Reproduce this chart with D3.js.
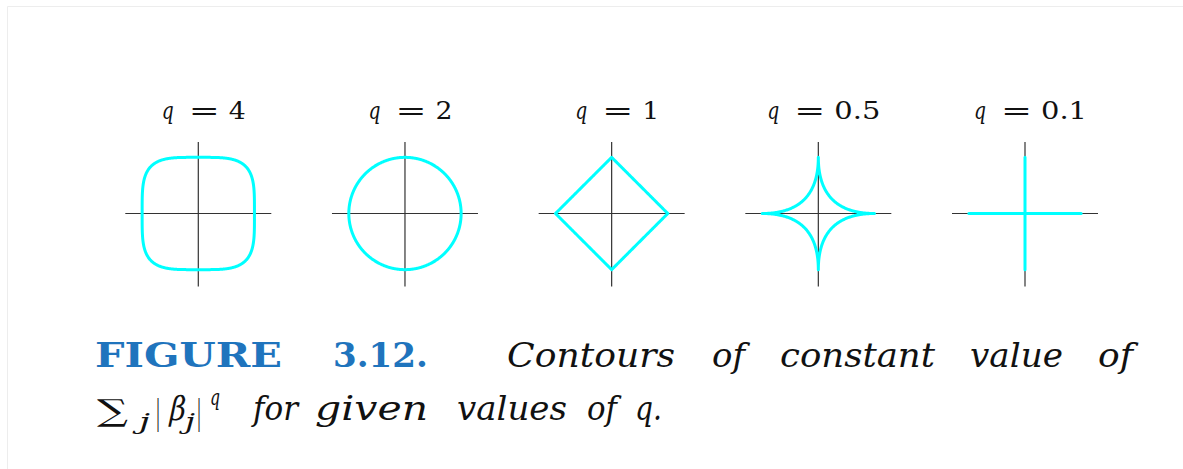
<!DOCTYPE html>
<html>
<head>
<meta charset="utf-8">
<script src="https://cdn.jsdelivr.net/npm/d3@7"></script>
<style>
  html, body { margin: 0; padding: 0; background: #fff; }
  svg { display: block; }
  text { font-family: "DejaVu Serif", serif; }
</style>
</head>
<body>
<div id="chart"></div>
<script>
// values of q, one panel each
var qValues = [4, 2, 1, 0.5, 0.1];
var qLabels = ["4", "2", "1", "0.5", "0.1"];

// caption words
var captionLine1 = ["FIGURE", "3.12.", "Contours", "of", "constant", "value", "of"];
var captionLine2 = ["for", "given", "values", "of", "q."];

var width = 1183, height = 469;
var cy = 213.5;              // vertical centre of the panels
var axisExtent = 1.3;        // axes run from -1.3 to 1.3, contour sits at 1

var svg = d3.select("#chart").append("svg")
    .attr("width", width)
    .attr("height", height);

// faint page frame
svg.append("path")
    .attr("d", "M7.5," + height + "V6.5H" + width)
    .attr("fill", "none")
    .attr("stroke", "#ededed")
    .attr("stroke-width", 1);

var cx = d3.scalePoint()
    .domain(qLabels)
    .range([198.3, 1025]);

var x = d3.scaleLinear().domain([-axisExtent, axisExtent]).range([-73, 73]);
var y = d3.scaleLinear().domain([-axisExtent, axisExtent]).range([73, -73]);

// points of |b1|^q + |b2|^q = 1
function contour(q) {
    var n = 720;
    return d3.range(n).map(function (i) {
        var t = i / n * 2 * Math.PI;
        var c = Math.cos(t), s = Math.sin(t);
        return [Math.sign(c) * Math.pow(Math.abs(c), 2 / q),
                Math.sign(s) * Math.pow(Math.abs(s), 2 / q)];
    });
}

var line = d3.line()
    .x(function (d) { return x(d[0]); })
    .y(function (d) { return y(d[1]); })
    .curve(d3.curveLinearClosed);

var panels = svg.selectAll("g.panel")
    .data(qValues)
    .enter().append("g")
    .attr("class", "panel")
    .attr("transform", function (d, i) {
        return "translate(" + cx(qLabels[i]) + "," + cy + ")";
    });

// axes
panels.append("line")
    .attr("x1", x(-axisExtent)).attr("x2", x(axisExtent))
    .attr("y1", y(0)).attr("y2", y(0))
    .attr("stroke", "#333").attr("stroke-width", 1.2);
panels.append("line")
    .attr("x1", x(0)).attr("x2", x(0))
    .attr("y1", y(axisExtent) + 1.5).attr("y2", y(-axisExtent))
    .attr("stroke", "#333").attr("stroke-width", 1.2);

// contours
panels.append("path")
    .attr("d", function (q) { return line(contour(q)); })
    .attr("fill", "none")
    .attr("stroke", "#00ffff")
    .attr("stroke-width", 3)
    .attr("stroke-linejoin", "round");

// panel labels  q = value
panels.each(function (q, i) {
    var g = d3.select(this);
    var lab = qLabels[i];
    var vw = lab.replace(/\./g, "").length * 17 + (lab.indexOf(".") >= 0 ? 12 : 0);
    var left = 6 - (68 + vw) / 2;
    var t = g.append("text")
        .attr("y", 119 - cy)
        .style("font-size", "25px")
        .attr("fill", "#111");
    t.append("tspan").attr("x", left).style("font-style", "italic")
        .attr("textLength", 12).attr("lengthAdjust", "spacingAndGlyphs").text("q");
    t.append("tspan").attr("x", left + 27).attr("textLength", 31)
        .attr("lengthAdjust", "spacingAndGlyphs").text("=");
    t.append("tspan").attr("x", left + 67).attr("textLength", vw)
        .attr("lengthAdjust", "spacingAndGlyphs").text(lab);
});

// caption
var line1Pos = [[95, 187], [333, 95], [507, 168], [712, 33], [780, 155], [970, 93], [1098, 35]];
var line2Pos = [[253, 45], [315, 113], [457, 110], [587, 30], [635, 27]];

svg.append("g").selectAll("text")
    .data(captionLine1)
    .enter().append("text")
    .attr("x", function (d, i) { return line1Pos[i][0]; })
    .attr("y", 367)
    .attr("textLength", function (d, i) { return line1Pos[i][1]; })
    .attr("lengthAdjust", "spacingAndGlyphs")
    .style("font-size", "33px")
    .style("font-weight", function (d, i) { return i < 2 ? "bold" : "normal"; })
    .style("font-style", function (d, i) { return i < 2 ? "normal" : "italic"; })
    .attr("fill", function (d, i) { return i < 2 ? "#1f74bd" : "#111"; })
    .text(function (d) { return d; });

svg.append("g").selectAll("text")
    .data(captionLine2)
    .enter().append("text")
    .attr("x", function (d, i) { return line2Pos[i][0]; })
    .attr("y", 420)
    .attr("textLength", function (d, i) { return line2Pos[i][1]; })
    .attr("lengthAdjust", "spacingAndGlyphs")
    .style("font-size", "33px")
    .style("font-style", "italic")
    .attr("fill", "#111")
    .text(function (d) { return d; });

// sum_j |beta_j|^q
var formula = [
    {t: "\u2211", x: 97, w: 31, y: 421, size: 30, italic: false},
    {t: "j", x: 139, w: 11, y: 429, size: 22, italic: true},
    {t: "|", x: 156, w: 4, y: 424, size: 34, italic: false},
    {t: "\u03b2", x: 168, w: 16, y: 420, size: 33, italic: false},
    {t: "j", x: 185, w: 10, y: 429, size: 22, italic: true},
    {t: "|", x: 197, w: 4, y: 424, size: 34, italic: false},
    {t: "q", x: 210, w: 10, y: 405, size: 22, italic: true}
];
svg.append("g").selectAll("text")
    .data(formula)
    .enter().append("text")
    .attr("x", function (d) { return d.x; })
    .attr("y", function (d) { return d.y; })
    .attr("textLength", function (d) { return d.w; })
    .attr("lengthAdjust", "spacingAndGlyphs")
    .style("font-size", function (d) { return d.size + "px"; })
    .style("font-style", function (d) { return d.italic ? "italic" : "normal"; })
    .attr("transform", function (d) {
        // slant the upright beta by hand so its box stays tight
        return d.t === "\u03b2" ? "translate(" + d.x + "," + d.y + ") skewX(-12) translate(" + (-d.x) + "," + (-d.y) + ")" : null;
    })
    .attr("fill", "#111")
    .text(function (d) { return d.t; });
</script>
</body>
</html>
